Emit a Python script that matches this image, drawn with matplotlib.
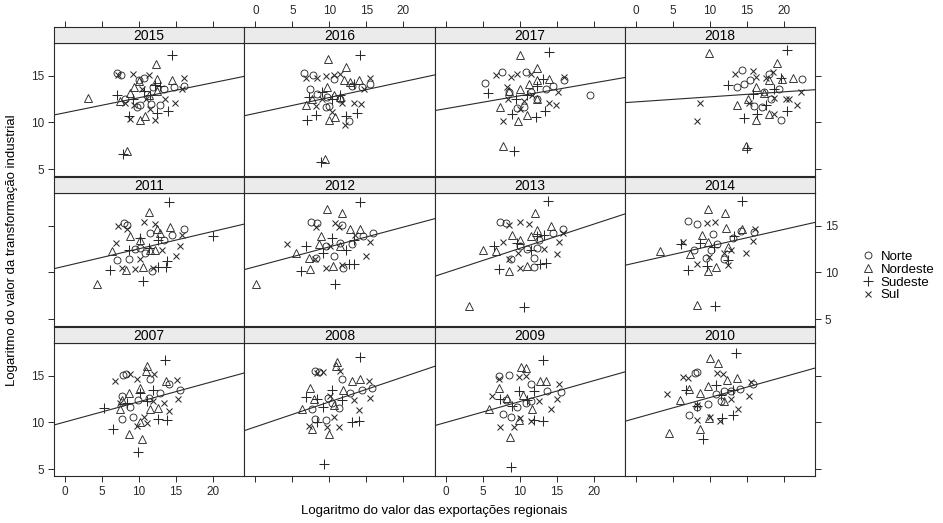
import matplotlib
matplotlib.use("Agg")
import matplotlib.pyplot as plt
from matplotlib.lines import Line2D

# points per region (x = log exports, y = log industrial value)
p2015 = {
    "Norte": [(7.07, 15.29), (7.57, 15.07), (9.7, 11.6), (10.1, 11.9), (11.6, 12.0), (12.8, 11.9), (13.3, 13.6),
              (14.7, 13.75), (16.0, 13.9), (10.0, 14.5), (10.7, 14.8), (11.9, 13.75), (8.1, 12.5)],
    "Nordeste": [(3.15, 12.57), (8.4, 6.9), (12.3, 16.3), (12.4, 14.6), (14.4, 14.5), (10.1, 10.2), (10.8, 10.7),
                 (9.3, 13.75), (11.3, 12.9), (7.4, 12.25), (12.4, 13.4), (10.0, 14.4), (8.8, 13.1)],
    "Sudeste": [(14.5, 17.2), (7.8, 6.6), (7.07, 12.9), (12.4, 11.0), (13.9, 11.25), (8.6, 10.7), (9.2, 12.5),
                (11.5, 12.9), (12.2, 14.0), (10.6, 13.4), (12.8, 13.9)],
    "Sul": [(7.2, 15.07), (9.2, 15.2), (11.3, 15.07), (16.0, 14.8), (14.8, 12.1), (12.2, 10.3), (8.7, 10.4),
            (8.1, 12.1), (13.5, 12.5), (10.4, 13.6), (11.5, 11.4), (9.3, 11.9), (15.8, 13.6), (10.9, 12.5)],
}
p2016 = {
    "Norte": [(6.6, 15.3), (7.8, 15.07), (7.4, 13.6), (8.3, 13.0), (9.5, 11.6), (10.0, 11.7), (10.6, 14.6),
              (12.6, 10.1), (14.4, 13.75), (15.5, 14.1), (9.7, 12.7), (11.5, 12.5), (13.1, 13.9)],
    "Nordeste": [(9.8, 16.8), (12.2, 15.9), (9.4, 6.1), (9.9, 10.2), (10.7, 10.6), (6.8, 11.9), (7.7, 12.5),
                 (12.0, 14.5), (14.0, 14.5), (12.8, 14.3), (10.6, 12.9), (9.7, 13.75), (11.5, 12.7)],
    "Sudeste": [(14.2, 17.2), (8.9, 5.7), (7.0, 10.3), (8.2, 10.8), (13.7, 11.0), (12.2, 10.7), (7.3, 12.75),
                (9.0, 13.2), (13.3, 14.1), (11.5, 12.9), (10.4, 12.5)],
    "Sul": [(6.9, 14.8), (8.3, 14.7), (9.5, 15.0), (10.6, 15.07), (11.5, 15.2), (15.5, 14.8), (14.3, 12.0),
            (12.1, 9.7), (10.4, 11.1), (8.2, 11.8), (13.3, 12.1), (11.7, 12.1), (14.7, 13.6), (9.0, 12.5)],
}
p2017 = {
    "Norte": [(5.3, 14.2), (7.6, 15.4), (10.8, 15.36), (19.5, 12.96), (16.0, 14.5), (14.5, 13.9), (9.7, 11.5),
              (10.6, 11.6), (13.5, 13.6), (8.6, 13.2), (12.4, 12.5), (11.5, 13.2)],
    "Nordeste": [(10.0, 17.2), (12.3, 15.8), (7.7, 7.5), (9.8, 10.1), (11.0, 10.8), (7.4, 11.6), (14.0, 14.6),
                 (12.4, 14.5), (11.3, 14.1), (8.6, 13.4), (12.3, 12.5), (10.1, 13.6)],
    "Sudeste": [(14.0, 17.5), (9.3, 6.9), (5.7, 13.1), (9.0, 10.9), (12.2, 10.6), (13.4, 11.2), (12.3, 13.9),
                (13.1, 14.6), (11.0, 12.9), (9.5, 12.5)],
    "Sul": [(6.8, 15.07), (8.8, 14.9), (9.7, 15.2), (11.5, 15.2), (16.0, 14.9), (15.2, 13.3), (14.0, 12.1),
            (14.9, 11.9), (7.8, 10.1), (8.4, 12.5), (10.6, 12.3), (10.1, 11.4), (11.7, 12.9), (8.3, 13.75)],
}
p2018 = {
    "Norte": [(14.4, 15.6), (13.6, 13.75), (14.6, 14.1), (15.4, 14.5), (18.0, 15.2), (22.5, 14.6), (19.6, 10.3),
              (19.4, 13.6), (17.1, 11.6), (15.9, 11.7), (18.2, 12.5), (17.3, 13.2)],
    "Nordeste": [(9.9, 17.4), (19.1, 16.4), (14.9, 7.5), (13.6, 11.9), (16.2, 10.3), (18.0, 10.9), (16.2, 13.75),
                 (18.0, 14.5), (19.8, 14.6), (21.2, 14.7), (15.1, 12.5), (17.3, 13.1)],
    "Sudeste": [(20.4, 17.75), (15.0, 7.2), (12.5, 14.0), (14.6, 10.5), (16.4, 10.9), (20.4, 11.25),
                (17.6, 11.9), (19.6, 14.7), (18.7, 13.6), (15.8, 13.0)],
    "Sul": [(8.6, 12.1), (8.3, 10.1), (13.4, 15.2), (15.8, 15.5), (17.6, 14.7), (18.5, 15.36), (22.3, 13.3),
            (21.8, 11.9), (20.7, 12.5), (15.3, 12.1), (18.7, 10.9), (18.7, 12.6), (16.2, 14.9), (20.3, 12.5)],
}
p2011 = {
    "Norte": [(8.0, 15.3), (8.4, 15.1), (7.0, 11.3), (8.6, 11.4), (11.7, 10.1), (16.0, 14.6), (14.4, 14.0),
              (13.3, 13.5), (10.1, 12.6), (9.5, 12.5), (11.5, 14.2), (10.8, 12.1)],
    "Nordeste": [(11.4, 16.5), (4.3, 8.7), (14.2, 14.9), (12.4, 14.6), (8.7, 13.9), (6.3, 12.25), (8.2, 10.3),
                 (10.5, 10.6), (12.2, 12.4), (10.1, 13.5), (12.8, 14.2), (11.5, 12.4)],
    "Sudeste": [(14.0, 17.5), (6.1, 10.3), (10.5, 9.1), (13.6, 10.6), (12.5, 10.6), (13.7, 11.2), (20.0, 13.9),
                (11.3, 12.6), (12.6, 13.5), (8.6, 12.4), (10.1, 13.7)],
    "Sul": [(7.1, 15.0), (10.6, 15.4), (12.2, 15.2), (8.4, 14.6), (15.5, 12.8), (15.0, 11.8), (7.7, 10.5),
            (9.5, 10.4), (6.9, 13.1), (10.1, 11.4), (11.9, 10.5), (13.1, 12.4), (15.8, 14.0)],
}
p2012 = {
    "Norte": [(7.5, 15.4), (8.3, 15.3), (15.9, 14.2), (14.5, 13.9), (11.9, 10.5), (8.2, 11.5), (9.6, 12.8),
              (11.5, 13.1), (10.6, 11.7), (13.1, 13.0), (11.7, 15.1)],
    "Nordeste": [(9.7, 16.8), (11.7, 16.4), (0.1, 8.7), (5.5, 12.1), (7.4, 10.4), (10.5, 10.7), (8.9, 13.9),
                 (14.2, 14.6), (12.8, 14.6), (7.2, 11.5), (8.6, 13.0), (11.5, 12.8)],
    "Sudeste": [(14.1, 17.5), (6.2, 10.1), (10.7, 8.7), (12.6, 10.9), (13.3, 10.9), (6.9, 12.8), (10.4, 13.7),
                (13.3, 13.5), (9.2, 12.1), (12.2, 12.4)],
    "Sul": [(4.3, 13.0), (8.2, 14.9), (10.8, 15.3), (15.0, 11.8), (15.5, 13.2), (9.5, 10.5), (8.1, 11.4),
            (11.7, 10.8), (10.1, 12.8), (13.5, 14.0), (11.3, 14.9)],
}
p2013 = {
    "Norte": [(7.3, 15.4), (8.2, 15.3), (15.9, 14.6), (14.5, 14.2), (11.9, 11.5), (12.0, 10.6), (8.8, 11.4),
              (10.0, 12.8), (11.0, 12.5), (12.6, 13.5), (12.4, 12.6)],
    "Nordeste": [(12.1, 16.4), (3.2, 6.4), (5.0, 12.4), (8.6, 10.1), (11.0, 10.7), (14.2, 15.0), (12.3, 14.5),
                 (9.0, 14.0), (6.8, 12.25), (10.1, 13.5), (11.5, 13.9)],
    "Sudeste": [(13.8, 17.6), (10.6, 6.3), (7.2, 10.4), (13.5, 11.0), (12.8, 10.9), (13.3, 14.0), (6.5, 12.8),
                (9.6, 13.1), (11.5, 12.4), (12.3, 13.9)],
    "Sul": [(10.0, 15.4), (11.3, 15.2), (8.6, 15.1), (15.0, 12.0), (15.3, 13.3), (15.9, 14.2), (10.1, 10.5),
            (8.6, 11.4), (7.7, 13.2), (13.3, 12.5), (9.8, 12.1)],
}
p2014 = {
    "Norte": [(7.0, 15.5), (8.3, 15.2), (16.0, 14.3), (14.2, 14.4), (9.5, 11.5), (11.9, 11.4), (7.9, 12.4),
              (10.4, 14.1), (13.1, 13.7), (11.0, 13.0), (10.1, 12.4)],
    "Nordeste": [(9.8, 16.8), (12.0, 16.4), (3.2, 12.25), (8.2, 6.5), (9.8, 10.1), (10.8, 10.6), (8.9, 14.0),
                 (12.2, 14.75), (14.4, 14.6), (7.3, 12.0), (9.7, 13.3), (12.4, 12.7)],
    "Sudeste": [(14.4, 17.6), (10.7, 6.4), (7.1, 10.2), (9.6, 10.7), (12.4, 11.3), (8.7, 13.1), (10.6, 12.7),
                (13.3, 13.9), (6.1, 13.0)],
    "Sul": [(6.4, 13.2), (9.6, 15.3), (10.7, 15.4), (15.8, 13.4), (16.1, 14.6), (14.9, 12.1), (8.2, 10.9),
            (12.5, 10.8), (11.9, 12.1), (9.9, 11.6), (12.8, 12.4)],
}
p2007 = {
    "Norte": [(7.8, 15.1), (8.2, 15.2), (7.7, 10.4), (9.2, 10.6), (11.5, 14.6), (15.5, 13.5), (14.1, 14.1),
              (9.9, 12.4), (11.3, 12.6), (7.7, 12.8), (12.8, 13.1), (8.8, 11.6)],
    "Nordeste": [(11.0, 16.0), (10.9, 15.5), (8.6, 8.8), (10.4, 8.2), (13.6, 14.4), (8.6, 13.1), (7.7, 12.4),
                 (10.1, 13.7), (11.5, 11.4), (10.1, 10.0), (12.6, 11.5), (7.4, 11.4)],
    "Sudeste": [(13.5, 16.7), (9.9, 6.8), (5.2, 11.5), (6.5, 9.3), (12.5, 10.4), (13.7, 10.2), (10.1, 13.1),
                (11.9, 13.5), (8.3, 12.1), (11.0, 12.25)],
    "Sul": [(6.8, 14.4), (8.7, 15.2), (9.7, 14.6), (12.0, 15.2), (15.1, 14.5), (15.3, 12.5), (14.0, 11.2),
            (9.7, 9.6), (11.1, 9.9), (7.4, 12.1), (11.9, 12.25), (10.6, 10.6), (13.3, 12.1)],
}
p2008 = {
    "Norte": [(8.1, 15.5), (8.6, 15.4), (14.4, 13.5), (15.8, 13.7), (8.1, 10.4), (9.6, 10.2), (11.3, 11.5),
              (9.8, 12.6), (11.7, 14.6), (7.7, 11.4), (12.8, 13.1), (10.4, 12.1)],
    "Nordeste": [(11.0, 16.5), (10.9, 16.0), (10.0, 8.8), (7.7, 9.3), (6.3, 11.4), (7.4, 13.7), (13.1, 14.4),
                 (14.1, 14.6), (7.9, 12.5), (11.9, 13.5), (10.6, 11.9)],
    "Sudeste": [(14.1, 17.0), (9.3, 5.5), (8.3, 10.0), (13.1, 10.0), (14.0, 10.1), (6.8, 12.7), (10.4, 13.5),
                (9.2, 11.6), (11.7, 12.4), (8.3, 12.5)],
    "Sul": [(8.3, 15.3), (9.1, 15.4), (11.5, 15.5), (15.3, 14.4), (15.5, 12.6), (14.0, 11.3), (11.3, 9.5),
            (9.7, 9.5), (7.2, 9.6), (10.6, 10.6), (13.3, 12.4), (10.1, 12.8)],
}
p2009 = {
    "Norte": [(7.2, 15.0), (8.6, 15.1), (15.6, 13.3), (11.5, 14.1), (7.7, 10.9), (8.9, 10.6), (10.8, 12.1),
              (9.6, 11.6), (13.7, 13.4), (8.1, 12.4), (11.5, 12.25)],
    "Nordeste": [(10.2, 15.9), (10.8, 15.8), (8.7, 8.4), (5.9, 11.4), (7.2, 13.7), (12.8, 14.4), (13.5, 14.4),
                 (9.9, 10.3), (11.7, 11.4), (8.3, 12.6), (10.4, 12.95)],
    "Sudeste": [(13.1, 16.7), (8.8, 5.2), (13.1, 10.1), (12.0, 10.3), (9.9, 13.4), (7.4, 12.5), (9.0, 11.8),
                (11.9, 13.4), (11.0, 12.4)],
    "Sul": [(7.2, 14.6), (9.9, 14.9), (10.8, 15.0), (15.3, 14.1), (15.0, 12.5), (14.3, 11.4), (11.5, 10.1),
            (10.1, 10.5), (7.4, 9.5), (9.2, 9.5), (6.3, 12.8), (12.6, 12.25)],
}
p2010 = {
    "Norte": [(8.0, 15.3), (8.2, 15.4), (15.8, 14.1), (14.1, 13.6), (7.2, 10.8), (9.7, 12.0), (10.8, 13.0),
              (11.5, 12.25), (12.9, 13.4), (8.2, 11.6), (11.9, 13.4)],
    "Nordeste": [(10.0, 16.9), (11.1, 16.4), (4.5, 8.9), (8.7, 9.3), (9.9, 10.5), (7.2, 13.6), (9.7, 13.9),
                 (12.3, 14.5), (13.7, 14.75), (6.0, 12.4), (8.6, 13.1), (11.9, 12.25)],
    "Sudeste": [(13.5, 17.4), (9.1, 8.2), (11.7, 10.5), (13.1, 10.8), (6.8, 13.5), (10.8, 14.0), (8.2, 11.7),
                (11.5, 12.9), (13.1, 13.5)],
    "Sul": [(4.2, 13.0), (6.4, 14.9), (7.1, 14.75), (10.9, 15.3), (11.8, 15.2), (15.5, 14.3), (15.3, 12.8),
            (13.8, 11.4), (11.4, 10.1), (10.0, 10.6), (8.3, 10.3), (8.3, 11.9), (12.8, 12.5)],
}

# panel layout as in the lattice plot: top row 2015-2018, then 2011-2014, then 2007-2010
years = [[2015, 2016, 2017, 2018], [2011, 2012, 2013, 2014], [2007, 2008, 2009, 2010]]
panels = {2015: p2015, 2016: p2016, 2017: p2017, 2018: p2018,
          2011: p2011, 2012: p2012, 2013: p2013, 2014: p2014,
          2007: p2007, 2008: p2008, 2009: p2009, 2010: p2010}

# fitted line per year: (intercept, slope)
fits = {2015: (11.03, 0.161), 2016: (10.96, 0.170), 2017: (11.46, 0.138), 2018: (12.19, 0.054),
        2011: (10.67, 0.186), 2012: (10.61, 0.212), 2013: (9.96, 0.260), 2014: (11.02, 0.179),
        2007: (10.04, 0.217), 2008: (9.51, 0.268), 2009: (9.98, 0.224), 2010: (10.44, 0.222)}

regions = ["Norte", "Nordeste", "Sudeste", "Sul"]
markers = {"Norte": "o", "Nordeste": "^", "Sudeste": "+", "Sul": "x"}
msize = {"Norte": 5, "Nordeste": 5.5, "Sudeste": 6.5, "Sul": 5}
xticks = [0, 5, 10, 15, 20]
yticks = [5, 10, 15]

W, H = 943, 523
fig = plt.figure(figsize=(W / 100, H / 100), dpi=100)
plt.rcParams['font.family'] = ['Liberation Sans', 'DejaVu Sans']

xlim = (-1.5, 24.2)
ylim = (4.25, 18.5)
col_left = 54
col_w = 190.25
ink = '#2a2a2a'


def marker_style(reg):
    if markers[reg] in ('+', 'x'):
        return dict(marker=markers[reg], ms=msize[reg], mew=0.75, color=ink)
    return dict(marker=markers[reg], ms=msize[reg], mfc='none', mec=ink, mew=0.65)


for r, row in enumerate(years):
    strip_top = 27 + 150 * r
    strip_bot = 43 + 150 * r
    pan_bot = 176 + 150 * r
    for c, yr in enumerate(row):
        x0 = (col_left + c * col_w) / W
        w = col_w / W
        ax = fig.add_axes([x0, 1 - pan_bot / H, w, (pan_bot - strip_bot) / H])
        sa = fig.add_axes([x0, 1 - strip_bot / H, w, (strip_bot - strip_top) / H])
        sa.set_facecolor('#ebebeb')
        sa.set_xlim(xlim)
        sa.set_yticks([])
        sa.text(0.5, 0.45, str(yr), transform=sa.transAxes, ha='center', va='center', fontsize=10)

        for reg in regions:
            pts = panels[yr][reg]
            xs = [p[0] for p in pts]
            ys = [p[1] for p in pts]
            ax.plot(xs, ys, linestyle='none', **marker_style(reg))
        a, b = fits[yr]
        ax.plot(xlim, [a + b * xlim[0], a + b * xlim[1]], color=ink, lw=0.8)
        ax.set_xlim(xlim)
        ax.set_ylim(ylim)

        for s in list(ax.spines.values()) + list(sa.spines.values()):
            s.set_linewidth(0.8)
            s.set_color(ink)

        # alternating lattice-style axes
        ax.set_xticks(xticks)
        ax.set_yticks(yticks)
        ax.tick_params(direction='out', length=4, width=0.7, labelsize=8.5, colors=ink, pad=3)
        sa.tick_params(direction='out', length=4, width=0.7, labelsize=8.5, colors=ink, pad=3)
        sa.set_xticks(xticks)
        if r == 2:
            ax.tick_params(axis='x', bottom=True, labelbottom=(c % 2 == 0))
        else:
            ax.tick_params(axis='x', bottom=False, labelbottom=False)
        if r == 0:
            sa.tick_params(axis='x', top=True, labeltop=(c % 2 == 1), bottom=False, labelbottom=False)
        else:
            sa.tick_params(axis='x', top=False, bottom=False, labelbottom=False)
        ax.tick_params(axis='y', left=(c == 0), labelleft=(c == 0 and r != 1),
                       right=(c == 3), labelright=(c == 3 and r == 1))

fig.text(12 / W, 1 - 250 / H, 'Logaritmo do valor da transformação industrial', rotation=90,
         ha='center', va='center', fontsize=9.5)
fig.text(434 / W, 1 - 511 / H, 'Logaritmo do valor das exportações regionais',
         ha='center', va='center', fontsize=9.5)

handles = [Line2D([], [], linestyle='none', **marker_style(reg)) for reg in regions]
fig.legend(handles, regions, loc='center left', bbox_to_anchor=(853 / W, 1 - 276 / H), frameon=False,
           fontsize=9.5, handletextpad=0.4, labelspacing=0.05, handlelength=1.2, borderpad=0)

fig.savefig('out.png', dpi=100)
